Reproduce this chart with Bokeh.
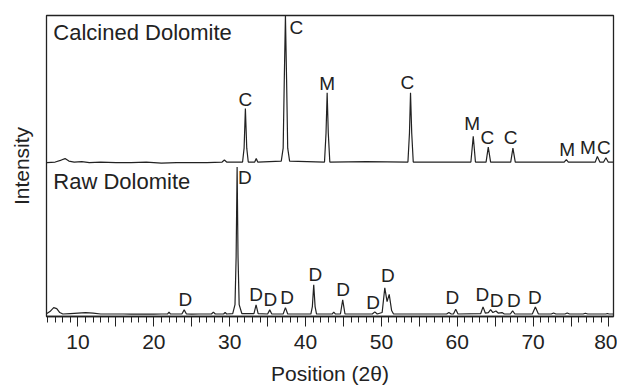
from bokeh.plotting import figure
from bokeh.models import ColumnDataSource, Range1d, SingleIntervalTicker, FixedTicker, Label
from bokeh.core.properties import value
from bokeh.embed import file_html
from bokeh.resources import INLINE

# ---- Raw dolomite trace (2theta, intensity, arbitrary units) ----
raw_x = [5.9, 6.3, 6.8, 7.2, 7.6, 8.0, 9.0, 10.0, 11.0, 12.0, 13.0, 14.0, 15.0, 16.0, 17.0,
         18.0, 19.0, 20.0, 21.0, 21.8, 22.0, 22.2, 23.7, 24.0, 24.3, 25.0, 26.0, 27.6, 27.85,
         28.1, 29.2, 29.4, 29.6, 30.4, 30.7, 30.85, 30.98, 31.1, 31.25, 31.6, 33.2, 33.48,
         33.75, 35.0, 35.28, 35.55, 37.05, 37.35, 37.65, 40.7, 40.9, 41.08, 41.26, 41.45,
         43.5, 43.72, 43.95, 44.6, 44.9, 45.2, 48.8, 49.13, 49.45, 50.1, 50.45, 50.75, 51.03,
         51.35, 51.6, 58.6, 58.9, 59.2, 59.5, 59.8, 60.1, 63.1, 63.4, 63.7, 64.1, 64.4, 64.7,
         65.1, 65.4, 65.9, 66.2, 67.0, 67.3, 67.6, 69.9, 70.3, 70.7, 72.4, 72.7, 73.0, 74.2,
         74.5, 74.8, 76.6, 76.9, 77.2, 79.6, 79.8, 80.0, 80.6]
raw_y = [3, 5, 9, 8, 4, 2.5, 3, 3.5, 4, 3.5, 2.5, 2.5, 2.5, 2.5, 2.3,
         2.5, 2.3, 2.3, 2.5, 2.5, 4.5, 2.5, 2.5, 6.7, 2.5, 2.3, 2.5, 2.5, 4.5,
         2.5, 2.5, 4, 2.5, 3, 12, 60, 151, 60, 12, 3, 3, 11.7,
         3, 2.5, 6.7, 2.5, 2.5, 9, 2.5, 2.5, 10, 32, 10, 2.5,
         2.5, 4.5, 2.5, 2.5, 16.7, 2.5, 2.5, 4.7, 2.5, 4, 29, 15, 22.3,
         6, 2.5, 2.5, 4, 2.5, 2.5, 7.3, 2.5, 3, 9.7, 3.5, 4, 7, 4,
         5.5, 3.5, 4, 2.5, 2.5, 5.7, 2.5, 2.5, 9.7, 2.5, 2.5, 3.6, 2.5, 2.5,
         3.6, 2.5, 2.5, 3.3, 2.5, 2.5, 3, 2.5, 2.5]

# ---- Calcined dolomite trace (stacked, intensity incl. offset) ----
cal_x = [5.9, 7.0, 7.8, 8.3, 8.8, 9.5, 10.5, 11.5, 13.0, 15.0, 17.0, 19.0, 21.0, 23.0, 25.0,
         27.0, 29.0, 29.3, 29.6, 31.7, 31.9, 32.07, 32.25, 32.45, 33.3, 33.5, 33.7, 36.8,
         37.05, 37.2, 37.35, 37.5, 37.65, 37.9, 42.5, 42.7, 42.85, 43.0, 43.2, 48.0, 53.5,
         53.7, 53.84, 54.0, 54.2, 58.0, 61.8, 62.11, 62.4, 63.8, 64.09, 64.4, 67.05, 67.34,
         67.65, 71.0, 74.1, 74.38, 74.65, 78.2, 78.47, 78.8, 79.3, 79.6, 79.9, 80.6]
cal_y = [155.5, 156, 158, 159.5, 157, 156, 156.5, 155.5, 156, 155.5, 155.5, 156, 155, 155.5, 155.5,
         155.5, 156, 158, 156, 156, 170, 210, 170, 156, 156, 159.5, 156, 157,
         170, 240, 304, 240, 170, 157, 156, 185, 226, 185, 156, 156.5, 156,
         185, 226, 185, 156, 156, 156, 182, 156, 156, 171, 156, 156, 170,
         156, 156, 156, 158.5, 156, 156, 161.7, 156, 156, 160.3, 156, 156]

# ---- Peak labels ----
cal_lab_x = [32.07, 38.8, 42.85, 53.44, 61.98, 63.96, 67.03, 74.5, 77.23, 79.34]
cal_lab_y = [219, 291.5, 235, 236, 194.5, 180.5, 180.5, 169, 171, 171]
cal_lab_t = ["C", "C", "M", "C", "M", "C", "C", "M", "M", "C"]

raw_lab_x = [24.16, 32.0, 33.48, 35.37, 37.57, 41.3, 44.96, 48.92, 50.84, 59.34, 63.3, 65.19, 67.47, 70.24]
raw_lab_y = [17.5, 140, 22, 17, 19, 42.5, 27.5, 14.5, 41.5, 19, 22, 16, 16, 19]
raw_lab_t = ["D"] * 14

tick_labels = {t: (str(t) if t % 10 == 0 else "") for t in range(5, 85, 5)}

FONT = "Liberation Sans"

p = figure(width=617, height=387, output_backend="svg", toolbar_location=None,
           x_range=Range1d(5.85, 80.6), y_range=Range1d(0, 304),
           min_border_left=46, min_border_right=4, min_border_top=15, min_border_bottom=68)
p.background_fill_color = "white"
p.border_fill_color = "white"
p.outline_line_color = "#222222"
p.outline_line_width = 1.3
p.grid.visible = False

p.line(raw_x, raw_y, line_color="#222222", line_width=1.2)
p.line(cal_x, cal_y, line_color="#222222", line_width=1.2)

for xs, ys, ts in [(cal_lab_x, cal_lab_y, cal_lab_t), (raw_lab_x, raw_lab_y, raw_lab_t)]:
    src = ColumnDataSource(dict(x=xs, y=ys, t=ts))
    p.text(x="x", y="y", text="t", source=src, text_font=value(FONT), text_font_size="19px",
           text_align="center", text_baseline="middle", text_color="#222222")

p.add_layout(Label(x=6.75, y=287, text="Calcined Dolomite", text_font=FONT, text_font_size="22px",
                   text_baseline="middle", text_color="#222222"))
p.add_layout(Label(x=6.75, y=136.5, text="Raw Dolomite", text_font=FONT, text_font_size="22px",
                   text_baseline="middle", text_color="#222222"))

xa = p.xaxis[0]
xa.ticker = SingleIntervalTicker(interval=5, num_minor_ticks=5)
xa.major_label_overrides = tick_labels
xa.major_tick_out = 10
xa.major_tick_in = 0
xa.minor_tick_out = 6
xa.minor_tick_in = 0
xa.major_tick_line_color = "#222222"
xa.minor_tick_line_color = "#222222"
xa.axis_line_color = "#222222"
xa.axis_line_width = 1.3
xa.major_label_text_font = FONT
xa.major_label_text_font_size = "21px"
xa.major_label_text_color = "#222222"
xa.major_label_standoff = 8
xa.axis_label = "Position (2θ)"
xa.axis_label_text_font = FONT
xa.axis_label_text_font_size = "21px"
xa.axis_label_text_font_style = "normal"
xa.axis_label_text_color = "#222222"
xa.axis_label_standoff = 10

ya = p.yaxis[0]
ya.ticker = FixedTicker(ticks=[])
ya.major_tick_out = 0
ya.minor_tick_out = 0
ya.major_tick_in = 0
ya.minor_tick_in = 0
ya.axis_line_color = "#222222"
ya.axis_label = "Intensity"
ya.axis_label_text_font = FONT
ya.axis_label_text_font_size = "21px"
ya.axis_label_text_font_style = "normal"
ya.axis_label_text_color = "#222222"
ya.axis_label_standoff = 14

open("out.html", "w").write(file_html(p, INLINE))
